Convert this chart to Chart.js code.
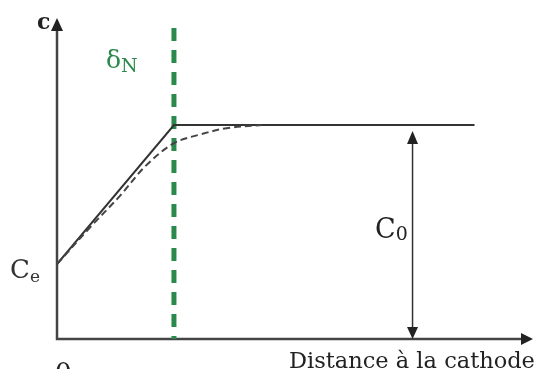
<!DOCTYPE html>
<html>
<head>
<meta charset="utf-8">
<script src="https://cdn.jsdelivr.net/npm/chart.js@4.4.0/dist/chart.umd.min.js"></script>
<style>
  html, body { margin: 0; padding: 0; background: #fff; }
  #wrap { width: 537px; height: 369px; position: relative; }
</style>
</head>
<body>
<div id="wrap"><canvas id="profile"></canvas></div>
<script>
// Concentration profile near the cathode (Nernst diffusion layer)
const C0 = 1;
const Ce = 0.35;
const deltaN = 1;
const plateauEnd = 3.57;
const arrowAt = 3.04;

// linear (Nernst) profile
const solidDistance = [0, deltaN, plateauEnd];
const solidConc = [Ce, C0, C0];

// real profile, read as a smooth curve
const curveDistance = [0, 0.28, 0.54, 0.76, 1.0, 1.22, 1.45, 1.75];
const curveConc = [0.35, 0.52, 0.67, 0.81, 0.915, 0.955, 0.985, 1.0];

// diffusion layer boundary
const boundaryConc = [1.453, 0];

const xLabel = 'Distance à la cathode';
const originLabel = '0';
const yLabel = 'c';

const xMax = 4.07;
const yMax = 1.5;

const ink = '#333';
const green = 'rgb(42,138,76)';
const serif = '"DejaVu Serif", serif';

const toPoints = (xs, ys) => xs.map((x, i) => ({ x, y: ys[i] }));

function arrowHead(ctx, tipX, tipY, dir, len, half) {
  ctx.beginPath();
  if (dir === 'up') {
    ctx.moveTo(tipX, tipY);
    ctx.lineTo(tipX - half, tipY + len);
    ctx.lineTo(tipX + half, tipY + len);
  } else if (dir === 'down') {
    ctx.moveTo(tipX, tipY);
    ctx.lineTo(tipX - half, tipY - len);
    ctx.lineTo(tipX + half, tipY - len);
  } else {
    ctx.moveTo(tipX, tipY);
    ctx.lineTo(tipX - len, tipY - half);
    ctx.lineTo(tipX - len, tipY + half);
  }
  ctx.closePath();
  ctx.fill();
}

// draws text with a subscript part
function subText(ctx, main, sub, x, y, mainSize, subSize, drop, color) {
  ctx.fillStyle = color;
  ctx.textBaseline = 'alphabetic';
  ctx.textAlign = 'left';
  ctx.font = mainSize + 'px ' + serif;
  ctx.fillText(main, x, y);
  const w = ctx.measureText(main).width;
  ctx.font = subSize + 'px ' + serif;
  ctx.fillText(sub, x + w, y + drop);
}

const axesPlugin = {
  id: 'axesPlugin',
  beforeDatasetsDraw(chart) {
    const { ctx, scales: { x, y } } = chart;
    const x0 = x.getPixelForValue(0);
    const y0 = y.getPixelForValue(0);
    const xEnd = x.getPixelForValue(xMax);
    const yEnd = y.getPixelForValue(yMax);
    ctx.save();
    ctx.strokeStyle = '#444';
    ctx.fillStyle = '#222';
    ctx.lineWidth = 2.5;
    ctx.beginPath();
    ctx.moveTo(x0, yEnd + 12);
    ctx.lineTo(x0, y0);
    ctx.lineTo(xEnd - 11, y0);
    ctx.stroke();
    arrowHead(ctx, x0, yEnd, 'up', 13, 6);
    arrowHead(ctx, xEnd, y0, 'right', 12, 6);

    // C0 double arrow
    const ax = x.getPixelForValue(arrowAt);
    const top = y.getPixelForValue(C0) + 6;
    ctx.lineWidth = 1.5;
    ctx.strokeStyle = '#333';
    ctx.beginPath();
    ctx.moveTo(ax, top + 10);
    ctx.lineTo(ax, y0 - 10);
    ctx.stroke();
    arrowHead(ctx, ax, top, 'up', 13, 5.5);
    arrowHead(ctx, ax, y0, 'down', 12, 5.5);
    ctx.restore();
  },
  afterDraw(chart) {
    const { ctx, scales: { y } } = chart;
    ctx.save();
    ctx.fillStyle = '#222';
    ctx.textBaseline = 'alphabetic';

    ctx.font = 'bold 22px ' + serif;
    ctx.textAlign = 'left';
    ctx.fillText(yLabel, 37, 29);

    ctx.font = '22.5px ' + serif;
    ctx.fillText(xLabel, 289, 368);

    ctx.font = '26px ' + serif;
    ctx.fillText(originLabel, 55, 381);

    subText(ctx, 'C', 'e', 10, y.getPixelForValue(Ce) + 14, 26, 17, 4, '#333');
    subText(ctx, 'C', '0', 375, 238, 27, 19, 2, '#222');
    subText(ctx, 'δ', 'N', 106, 68, 25, 19, 4, green);
    ctx.restore();
  }
};

new Chart(document.getElementById('profile'), {
  type: 'scatter',
  data: {
    datasets: [
      {
        data: toPoints(curveDistance, curveConc),
        showLine: true,
        borderColor: '#444',
        borderWidth: 2,
        borderDash: [7, 4],
        tension: 0.35,
        pointRadius: 0
      },
      {
        data: toPoints(solidDistance, solidConc),
        showLine: true,
        borderColor: ink,
        borderWidth: 2,
        tension: 0,
        pointRadius: 0
      },
      {
        data: toPoints([deltaN, deltaN], boundaryConc),
        showLine: true,
        borderColor: green,
        borderWidth: 5,
        borderDash: [13, 9],
        borderCapStyle: 'butt',
        pointRadius: 0
      }
    ]
  },
  options: {
    responsive: true,
    maintainAspectRatio: false,
    animation: false,
    layout: { padding: { left: 57, right: 4, top: 18, bottom: 30 } },
    plugins: { legend: { display: false }, tooltip: { enabled: false } },
    scales: {
      x: { type: 'linear', min: 0, max: xMax, display: false },
      y: { type: 'linear', min: 0, max: yMax, display: false }
    }
  },
  plugins: [axesPlugin]
});
</script>
</body>
</html>
